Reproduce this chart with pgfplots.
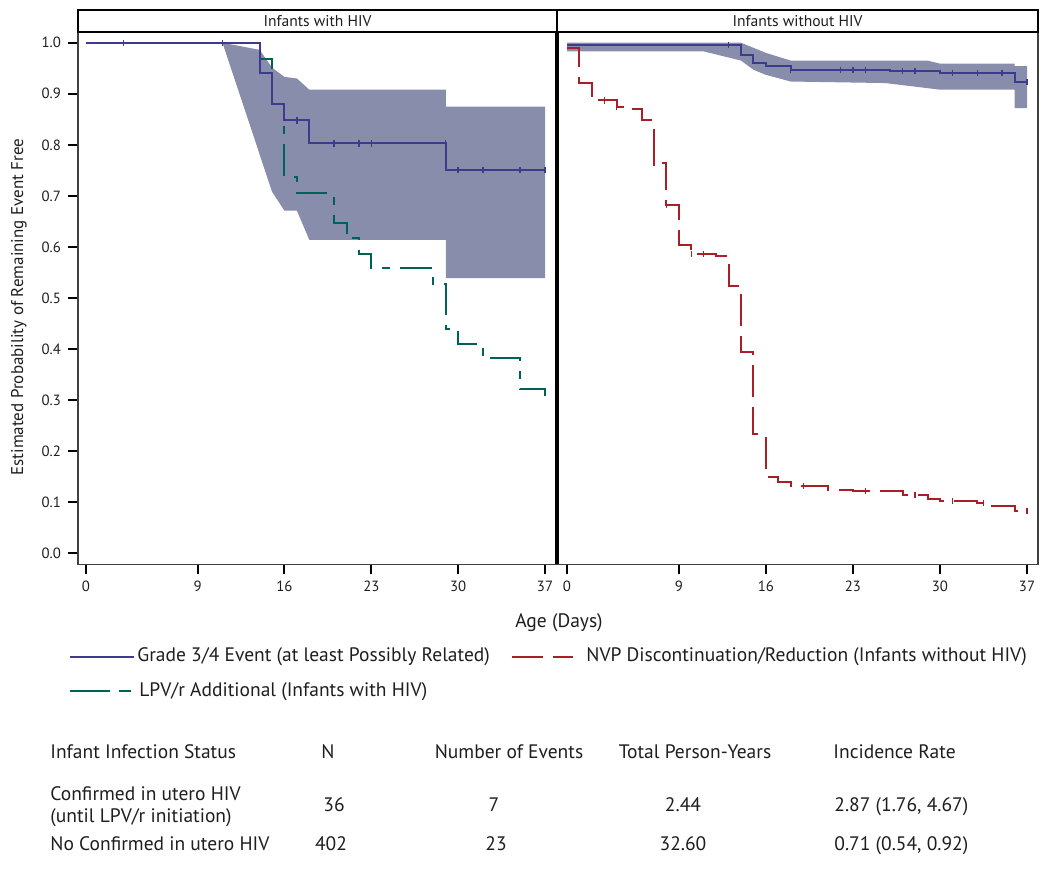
\documentclass[border=0pt]{standalone}
\usepackage{pgfplots}
\pgfplotsset{compat=1.18}
\usepackage{fontspec}
\setmainfont{PT Sans}
\definecolor{gradeblue}{RGB}{62,58,140}
\definecolor{bandcol}{RGB}{137,141,172}
\definecolor{lpvteal}{RGB}{0,96,90}
\definecolor{nvpred}{RGB}{170,30,40}
\definecolor{txt}{RGB}{30,30,30}
\pgfplotsset{
  kmaxis/.style={
    scale only axis, height=265.9pt,
    ymin=-0.0215, ymax=1.02,
    xtick={0,9,16,23,30,37},
    tick align=outside, major tick length=5pt,
    xtick pos=bottom, ytick pos=left,
    tick style={black, line width=1pt},
    axis line style={black!75, line width=0.8pt},
    tick label style={font=\fontsize{7.4}{8}\selectfont, text=txt},
    /pgf/number format/assume math mode=true,
    clip=true,
  },
  kmline/.style={const plot, line width=1pt, mark=none},
  cens/.style={only marks, mark=|, mark size=1.6pt, mark options={line width=0.7pt}},
}
\begin{document}
\begin{tikzpicture}
\path[use as bounding box] (0,0) rectangle (525pt,-434.5pt);

% ---------- Left panel: infants with HIV ----------
\begin{axis}[kmaxis, at={(39pt,-282.15pt)}, anchor=south west,
  width=239.5pt, xmin=-0.645, xmax=37.967,
  ytick={0,0.1,0.2,0.3,0.4,0.5,0.6,0.7,0.8,0.9,1.0},
  yticklabel style={/pgf/number format/fixed, /pgf/number format/fixed zerofill, /pgf/number format/precision=1},
]
\addplot[fill=bandcol, draw=none] coordinates {
 (11,1.0) (14,0.986) (15,0.951) (16,0.933) (17,0.930) (18,0.908) (29,0.908) (29,0.875) (37,0.875)
 (37,0.539) (29,0.539) (29,0.614) (18,0.614) (17,0.671) (16,0.671) (15,0.708) (11,1.0)} -- cycle;
\addplot[kmline, lpvteal, dash pattern=on 16pt off 5pt on 4pt off 5pt] coordinates {
 (0,1.0) (14,0.968) (15,0.880) (16,0.738) (17,0.705) (20,0.646) (21,0.617) (22,0.586) (23,0.558)
 (28,0.527) (29,0.440) (30,0.410) (32,0.382) (35,0.321) (37,0.300)};
\addplot[kmline, gradeblue] coordinates {
 (0,1.0) (14,0.941) (15,0.880) (16,0.848) (18,0.803) (29,0.751) (37,0.751)};
\addplot[cens, gradeblue] coordinates {
 (3,1.0) (11,1.0) (17,0.848) (20,0.803) (22,0.803) (23,0.803) (29,0.803) (30,0.751) (32,0.751) (35,0.751) (37,0.751)};
\end{axis}

% ---------- Right panel: infants without HIV ----------
\begin{axis}[kmaxis, at={(278.5pt,-282.15pt)}, anchor=south west,
  width=240.5pt, xmin=-0.804, xmax=37.885, ytick=\empty,
]
\addplot[fill=bandcol, draw=none] coordinates {
 (0,1.0) (14,1.0) (16,0.980) (18,0.965) (29,0.965) (30,0.959) (36,0.959) (36,0.954) (37,0.954)
 (37,0.872) (36,0.872) (36,0.908) (30,0.908) (29,0.911) (25.6,0.921) (18,0.924) (16,0.937) (15,0.947) (14,0.965) (11,0.983) (0,0.983)} -- cycle;
\addplot[kmline, gradeblue] coordinates {
 (0,0.996) (14,0.976) (15,0.961) (16,0.955) (18,0.947) (26,0.945) (30,0.941) (36,0.923) (37,0.923)};
\addplot[cens, gradeblue] coordinates {
 (13,0.996) (18,0.947) (22,0.947) (23,0.947) (24,0.947) (27,0.945) (28,0.945) (31,0.941) (33,0.941) (35,0.941) (37,0.923)};
\addplot[kmline, nvpred, dash pattern=on 16pt off 5pt] coordinates {
 (0,0.990) (1,0.921) (2,0.887) (4,0.875) (5,0.870) (6,0.848) (7,0.765) (8,0.682) (9,0.604) (10,0.586)
 (12,0.582) (13,0.524) (14,0.395) (15,0.233) (16,0.150) (17,0.139) (18,0.132) (21,0.124) (23,0.122)
 (27,0.114) (29,0.107) (30,0.103) (33,0.099) (34,0.093) (36,0.083) (37,0.083)};
\addplot[cens, nvpred] coordinates {
 (3,0.887) (4,0.875) (7,0.765) (8,0.682) (10,0.586) (11,0.586) (19,0.132) (24,0.122) (28,0.114) (31,0.103) (33.5,0.099) (37,0.083)};
\end{axis}

% ---------- decorations in pixel units ----------
\begin{scope}[x=0.5pt, y=-0.5pt]
\draw[black, line width=1.6pt] (557,32) -- (557,564.3);
\draw[line width=1pt, fill=white] (78,10) rectangle (557,32);
\draw[line width=1pt, fill=white] (557,10) rectangle (1038,32);
\node[text=txt, font=\fontsize{7.8}{9}\selectfont] at (317.5,21) {Infants with HIV};
\node[text=txt, font=\fontsize{7.8}{9}\selectfont] at (797.5,21) {Infants without HIV};
\node[text=txt, rotate=90, font=\fontsize{8.5}{10}\selectfont] at (19,307) {Estimated Probability of Remaining Event Free};
\node[text=txt, font=\fontsize{9.75}{11}\selectfont, anchor=base] at (559,627) {Age (Days)};

% legend
\draw[gradeblue, line width=1pt] (70,656.7) -- (134,656.7);
\node[text=txt, font=\fontsize{9.75}{11}\selectfont, anchor=base west, inner sep=0] at (137,661.7) {Grade 3/4 Event (at least Possibly Related)};
\draw[nvpred, line width=1pt, dash pattern=on 15.5pt off 5pt] (512,656.7) -- (573,656.7);
\node[text=txt, font=\fontsize{9.75}{11}\selectfont, anchor=base west, inner sep=0] at (586,661.7) {NVP Discontinuation/Reduction (Infants without HIV)};
\draw[lpvteal, line width=1pt, dash pattern=on 20pt off 4.5pt on 6pt off 10pt] (70,690.7) -- (131,690.7);
\node[text=txt, font=\fontsize{9.75}{11}\selectfont, anchor=base west, inner sep=0] at (139,696.7) {LPV/r Additional (Infants with HIV)};

% table
\begin{scope}[every node/.style={text=txt, font=\fontsize{9.75}{11}\selectfont, inner sep=0}]
\node[anchor=base west] at (50,758) {Infant Infection Status};
\node[anchor=base] at (328,758) {N};
\node[anchor=base] at (509,758) {Number of Events};
\node[anchor=base] at (695,758) {Total Person-Years};
\node[anchor=base west] at (833,758) {Incidence Rate};
\node[anchor=base west] at (50,800) {Confirmed in utero HIV};
\node[anchor=base west] at (50,822) {(until LPV/r initiation)};
\node[anchor=base] at (334,811.7) {36};
\node[anchor=base] at (494,811.7) {7};
\node[anchor=base] at (683,811.7) {2.44};
\node[anchor=base west] at (834,811.7) {2.87 (1.76, 4.67)};
\node[anchor=base west] at (50,850) {No Confirmed in utero HIV};
\node[anchor=base] at (331,850) {402};
\node[anchor=base] at (496,850) {23};
\node[anchor=base] at (683,850) {32.60};
\node[anchor=base west] at (834,850) {0.71 (0.54, 0.92)};
\end{scope}
\end{scope}
\end{tikzpicture}
\end{document}
